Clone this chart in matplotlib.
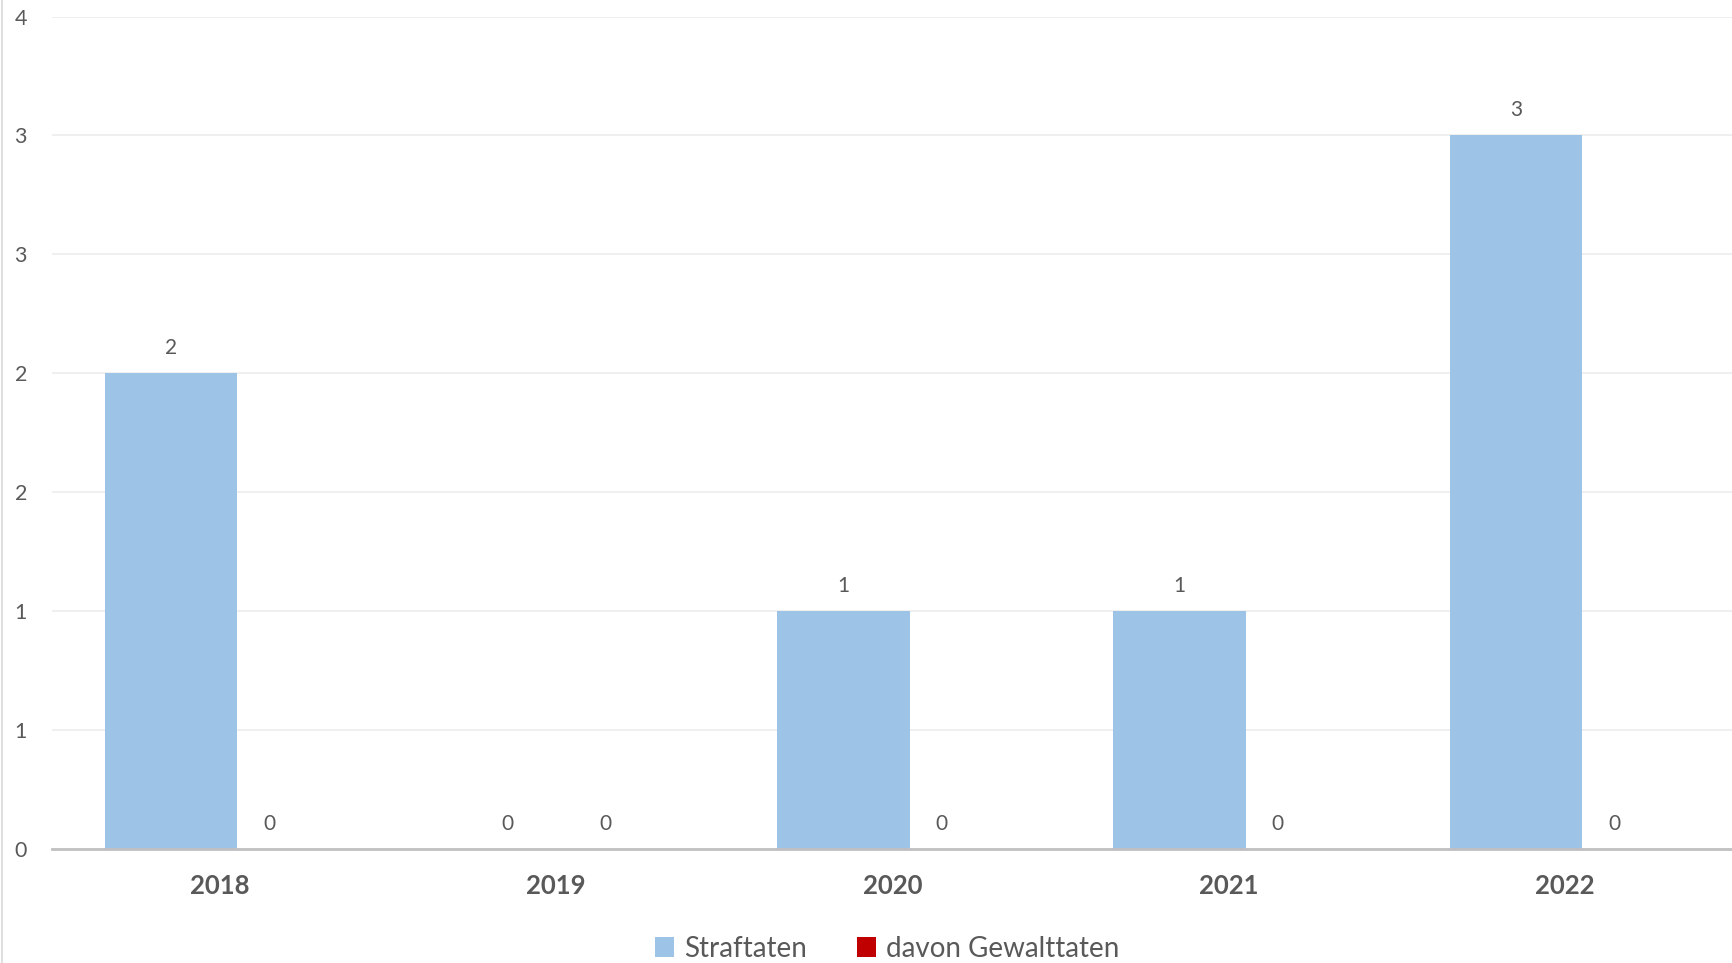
"""Straftaten chart, Excel-style clustered columns."""
import numpy as np
import matplotlib
matplotlib.use("Agg")
import matplotlib.pyplot as plt
from matplotlib.lines import Line2D
from matplotlib.patches import Patch

years = ["2018", "2019", "2020", "2021", "2022"]
straftaten = [2, 0, 1, 1, 3]
gewalttaten = [0, 0, 0, 0, 0]
series_names = ["Straftaten", "davon Gewalttaten"]
y_ticks = [0, 0.5, 1, 1.5, 2, 2.5, 3, 3.5]

BLUE = "#9DC3E6"
RED = "#C00000"
TEXT = "#595959"

plt.rcParams["font.family"] = ["Lato", "DejaVu Sans"]

fig = plt.figure(figsize=(17.33, 9.63), dpi=100)
ax = fig.add_axes([0.030, 0.1184, 0.970, 0.8644])

x = np.arange(len(years))
offset = 0.146
width = 0.394
ax.bar(x - offset, straftaten, width=width, color=BLUE, zorder=2)
ax.bar(x + offset, gewalttaten, width=width, color=RED, zorder=2)

for xs, vals in [(x - offset, straftaten), (x + offset, gewalttaten)]:
    for xi, v in zip(xs, vals):
        ax.annotate(str(v), (xi, v), xytext=(0, 18), textcoords="offset points",
                    ha="center", va="center", fontsize=15, color=TEXT)

ax.set_xlim(-0.5, 4.5)
ax.set_ylim(0, 3.5)
ax.set_yticks(y_ticks)
ax.set_yticklabels([str(int(np.floor(t + 0.5))) for t in y_ticks])
ax.set_xticks(x)
ax.set_xticklabels(years, fontweight="bold", fontsize=18.5, color=TEXT)
ax.tick_params(axis="y", length=0, pad=18, labelsize=15.5, labelcolor=TEXT)
ax.tick_params(axis="x", length=0, pad=18)

ax.yaxis.grid(True, color="#EEEEEE", lw=1.3, zorder=0)
ax.set_axisbelow(True)
for side in ["top", "right", "left"]:
    ax.spines[side].set_visible(False)
ax.spines["bottom"].set_color("#C0C0C0")
ax.spines["bottom"].set_linewidth(2)
ax.spines["bottom"].set_zorder(3)

# thin chart border on the left edge
fig.add_artist(Line2D([0.0009, 0.0009], [0, 1], transform=fig.transFigure,
                      color="#D9D9D9", lw=1.2))

handles = [Patch(facecolor=BLUE), Patch(facecolor=RED)]
fig.legend(handles, series_names, loc="center", bbox_to_anchor=(0.512, 0.015),
           ncol=2, frameon=False, fontsize=20, labelcolor=TEXT,
           handlelength=0.7, handleheight=0.7, handletextpad=0.35,
           columnspacing=1.8)

fig.savefig("out.png", dpi=100)
